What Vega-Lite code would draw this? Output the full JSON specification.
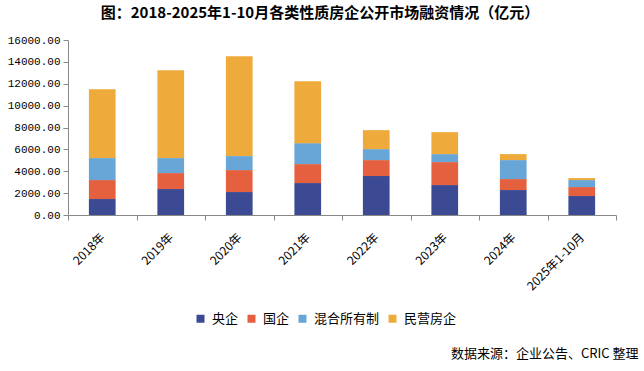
{
  "$schema": "https://vega.github.io/schema/vega-lite/v6.json",
  "width": 548,
  "height": 175,
  "autosize": {"type": "none"},
  "padding": {"left": 68, "top": 40, "right": 28, "bottom": 156},
  "background": "white",
  "config": {"view": {"stroke": null}},
  "title": {
    "text": "图：2018-2025年1-10月各类性质房企公开市场融资情况（亿元）",
    "font": "Noto Sans CJK SC",
    "fontSize": 15,
    "fontWeight": "bold",
    "color": "#000000",
    "anchor": "middle",
    "dx": -22,
    "offset": 13
  },
  "data": {
    "values": [
      {"year": "2018年", "type": "央企", "rank": 1, "value": 1460},
      {"year": "2018年", "type": "国企", "rank": 2, "value": 1734},
      {"year": "2018年", "type": "混合所有制", "rank": 3, "value": 2009},
      {"year": "2018年", "type": "民营房企", "rank": 4, "value": 6297},
      {"year": "2019年", "type": "央企", "rank": 1, "value": 2373},
      {"year": "2019年", "type": "国企", "rank": 2, "value": 1460},
      {"year": "2019年", "type": "混合所有制", "rank": 3, "value": 1370},
      {"year": "2019年", "type": "民营房企", "rank": 4, "value": 8031},
      {"year": "2020年", "type": "央企", "rank": 1, "value": 2099},
      {"year": "2020年", "type": "国企", "rank": 2, "value": 2008},
      {"year": "2020年", "type": "混合所有制", "rank": 3, "value": 1278},
      {"year": "2020年", "type": "民营房企", "rank": 4, "value": 9127},
      {"year": "2021年", "type": "央企", "rank": 1, "value": 2921},
      {"year": "2021年", "type": "国企", "rank": 2, "value": 1734},
      {"year": "2021年", "type": "混合所有制", "rank": 3, "value": 1916},
      {"year": "2021年", "type": "民营房企", "rank": 4, "value": 5659},
      {"year": "2022年", "type": "央企", "rank": 1, "value": 3560},
      {"year": "2022年", "type": "国企", "rank": 2, "value": 1460},
      {"year": "2022年", "type": "混合所有制", "rank": 3, "value": 1004},
      {"year": "2022年", "type": "民营房企", "rank": 4, "value": 1734},
      {"year": "2023年", "type": "央企", "rank": 1, "value": 2738},
      {"year": "2023年", "type": "国企", "rank": 2, "value": 2099},
      {"year": "2023年", "type": "混合所有制", "rank": 3, "value": 730},
      {"year": "2023年", "type": "民营房企", "rank": 4, "value": 2008},
      {"year": "2024年", "type": "央企", "rank": 1, "value": 2282},
      {"year": "2024年", "type": "国企", "rank": 2, "value": 1004},
      {"year": "2024年", "type": "混合所有制", "rank": 3, "value": 1734},
      {"year": "2024年", "type": "民营房企", "rank": 4, "value": 547},
      {"year": "2025年1-10月", "type": "央企", "rank": 1, "value": 1734},
      {"year": "2025年1-10月", "type": "国企", "rank": 2, "value": 822},
      {"year": "2025年1-10月", "type": "混合所有制", "rank": 3, "value": 638},
      {"year": "2025年1-10月", "type": "民营房企", "rank": 4, "value": 183}
    ]
  },
  "mark": {"type": "bar", "width": {"band": 0.39}},
  "encoding": {
    "x": {
      "field": "year",
      "type": "nominal",
      "sort": null,
      "scale": {"paddingInner": 0, "paddingOuter": 0},
      "axis": {
        "title": "数据来源：企业公告、CRIC 整理",
        "titleFont": "Noto Sans CJK SC",
        "titleFontSize": 13,
        "titleFontWeight": "normal",
        "titleColor": "#000000",
        "titleAlign": "right",
        "titleAnchor": null,
        "titleBaseline": "middle",
        "titleX": 570,
        "titleY": 138,
        "labelAngle": -45,
        "labelAlign": "right",
        "labelBaseline": "middle",
        "labelFont": "Noto Sans CJK SC",
        "labelFontSize": 12,
        "labelColor": "#000000",
        "labelPadding": 15,
        "tickBand": "extent",
        "tickSize": 5,
        "tickColor": "#888888",
        "domainColor": "#888888",
        "grid": false
      }
    },
    "y": {
      "field": "value",
      "type": "quantitative",
      "stack": "zero",
      "scale": {"domain": [0, 16000], "nice": false},
      "axis": {
        "title": null,
        "values": [0, 2000, 4000, 6000, 8000, 10000, 12000, 14000, 16000],
        "format": ".2f",
        "labelFont": "Liberation Mono",
        "labelFontSize": 11,
        "labelColor": "#000000",
        "labelPadding": 3,
        "tickSize": 5,
        "tickColor": "#888888",
        "domainColor": "#888888",
        "grid": false
      }
    },
    "color": {
      "field": "type",
      "type": "nominal",
      "sort": ["央企", "国企", "混合所有制", "民营房企"],
      "scale": {
        "domain": ["央企", "国企", "混合所有制", "民营房企"],
        "range": ["#3C4A93", "#E4603F", "#68A6D8", "#EEAA3A"]
      },
      "legend": {
        "title": null,
        "orient": "none",
        "direction": "horizontal",
        "legendX": 126,
        "legendY": 272,
        "symbolType": "square",
        "symbolSize": 64,
        "symbolStrokeWidth": 0,
        "symbolOpacity": 1,
        "labelFont": "Noto Sans CJK SC",
        "labelFontSize": 13,
        "labelColor": "#000000",
        "labelOffset": 5,
        "columnPadding": 6
      }
    },
    "order": {"field": "rank", "type": "quantitative", "sort": "ascending"}
  }
}
